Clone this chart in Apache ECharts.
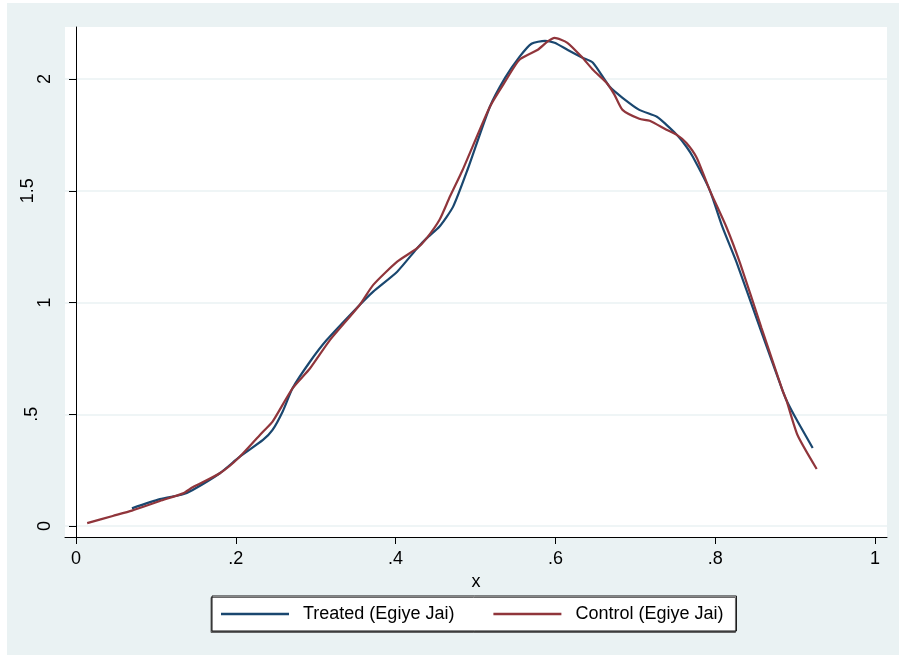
<!DOCTYPE html>
<html>
<head>
<meta charset="utf-8">
<script src="https://cdn.jsdelivr.net/npm/echarts@6/dist/echarts.min.js"></script>
<style>
  html, body { margin: 0; padding: 0; background: #ffffff; }
  #chart { position: absolute; left: 7px; top: 3px; width: 892px; height: 652px; }
</style>
</head>
<body>
<div id="chart"></div>
<script>
// Series names
const seriesNames = ['Treated (Egiye Jai)', 'Control (Egiye Jai)'];

// Treated (Egiye Jai) kernel density
const treatedX = [0.070, 0.105, 0.134, 0.146, 0.180, 0.205, 0.234, 0.246, 0.259, 0.271, 0.293, 0.314, 0.355, 0.372, 0.402, 0.427, 0.439, 0.455, 0.472, 0.490, 0.518, 0.537, 0.555, 0.570, 0.587, 0.599, 0.615, 0.634, 0.647, 0.668, 0.684, 0.705, 0.727, 0.739, 0.752, 0.764, 0.772, 0.793, 0.809, 0.827, 0.856, 0.884, 0.889, 0.902, 0.922];
const treatedY = [0.079, 0.120, 0.142, 0.161, 0.236, 0.310, 0.385, 0.430, 0.515, 0.616, 0.736, 0.833, 0.989, 1.049, 1.138, 1.243, 1.288, 1.340, 1.429, 1.594, 1.876, 2.005, 2.099, 2.158, 2.171, 2.162, 2.131, 2.095, 2.073, 1.965, 1.916, 1.862, 1.831, 1.795, 1.750, 1.697, 1.652, 1.504, 1.338, 1.177, 0.886, 0.609, 0.564, 0.475, 0.349];

// Control (Egiye Jai) kernel density
const controlX = [0.014, 0.046, 0.070, 0.105, 0.134, 0.146, 0.180, 0.205, 0.234, 0.246, 0.271, 0.293, 0.318, 0.355, 0.372, 0.402, 0.427, 0.439, 0.455, 0.468, 0.484, 0.518, 0.537, 0.555, 0.578, 0.590, 0.599, 0.615, 0.634, 0.647, 0.664, 0.674, 0.684, 0.705, 0.718, 0.739, 0.752, 0.764, 0.777, 0.793, 0.814, 0.831, 0.858, 0.884, 0.889, 0.903, 0.927];
const controlY = [0.013, 0.045, 0.069, 0.112, 0.146, 0.173, 0.236, 0.310, 0.422, 0.467, 0.616, 0.706, 0.833, 0.989, 1.079, 1.183, 1.243, 1.288, 1.370, 1.474, 1.594, 1.876, 1.988, 2.086, 2.131, 2.167, 2.184, 2.162, 2.095, 2.041, 1.983, 1.929, 1.862, 1.822, 1.813, 1.773, 1.750, 1.714, 1.647, 1.504, 1.338, 1.177, 0.886, 0.609, 0.564, 0.407, 0.255];

// Axis ticks
const xTickValues = [0, 0.2, 0.4, 0.6, 0.8, 1];
const xTickLabels = ['0', '.2', '.4', '.6', '.8', '1'];
const yTickValues = [0, 0.5, 1, 1.5, 2];
const yTickLabels = ['0', '.5', '1', '1.5', '2'];

const zip = (xs, ys) => xs.map((x, i) => [x, ys[i]]);
const labelFor = (vals, labels) => (v) => {
  const i = vals.findIndex(t => Math.abs(t - v) < 1e-9);
  return i >= 0 ? labels[i] : '';
};
// style key for rotated y labels (Stata offsets the longer ones outward)
const yLabelStyle = (txt) => txt === '1.5' ? 'w3' : (txt === '.5' ? 'w2' : 'w1');

const FONT = 'Liberation Sans, Arial, Helvetica, sans-serif';
const chart = echarts.init(document.getElementById('chart'), null, { renderer: 'canvas' });
const yFmt = labelFor(yTickValues, yTickLabels);

chart.setOption({
  backgroundColor: '#EAF2F3',
  animation: false,
  grid: {
    left: 58, right: 12, top: 24, bottom: 118,
    show: true, backgroundColor: '#ffffff', borderWidth: 0
  },
  xAxis: {
    type: 'value',
    min: -0.01377, max: 1.01502,
    name: 'x', nameLocation: 'middle', nameGap: 30,
    nameTextStyle: { fontFamily: FONT, fontSize: 18, color: '#000' },
    axisLine: { show: true, onZero: false, lineStyle: { color: '#000', width: 1 } },
    axisTick: { show: true, length: 7, customValues: xTickValues, lineStyle: { color: '#000' } },
    axisLabel: { customValues: xTickValues, margin: 13, fontFamily: FONT, fontSize: 18, color: '#000',
      formatter: labelFor(xTickValues, xTickLabels) },
    splitLine: { show: false }
  },
  yAxis: {
    type: 'value',
    min: -0.0492, max: 2.2327,
    axisLine: { show: true, lineStyle: { color: '#000', width: 1 } },
    axisTick: { show: true, length: 7, customValues: yTickValues, lineStyle: { color: '#000' } },
    axisLabel: { customValues: yTickValues, rotate: 90, margin: 11, fontFamily: FONT, fontSize: 18, color: '#000',
      formatter: (v) => { const t = yFmt(v); return '{' + yLabelStyle(t) + '|' + t + '}'; },
      rich: {
        w1: { fontFamily: FONT, fontSize: 18, color: '#000' },
        w2: { fontFamily: FONT, fontSize: 18, color: '#000', padding: [0, 0, 13, 0] },
        w3: { fontFamily: FONT, fontSize: 18, color: '#000', padding: [0, 0, 17, 0] }
      }
    },
    splitLine: { show: true, lineStyle: { color: '#EAF2F3', width: 1.5 } }
  },
  legend: {
    data: seriesNames,
    left: 205, top: 593,
    orient: 'horizontal',
    icon: 'rect',
    itemWidth: 68, itemHeight: 2.5,
    itemGap: 39,
    padding: [9, 13, 8, 9],
    backgroundColor: '#ffffff',
    borderColor: '#111',
    borderWidth: 1,
    shadowColor: 'rgba(90,90,90,0.9)', shadowBlur: 0, shadowOffsetX: -1, shadowOffsetY: 1.5,
    textStyle: { fontFamily: FONT, fontSize: 18, color: '#000', padding: [0, 0, 0, 9] }
  },
  series: [
    {
      name: seriesNames[0], type: 'line', data: zip(treatedX, treatedY),
      showSymbol: false, symbol: 'none', smooth: 0.2,
      lineStyle: { color: '#1a476f', width: 2.2 }, itemStyle: { color: '#1a476f' }, z: 2
    },
    {
      name: seriesNames[1], type: 'line', data: zip(controlX, controlY),
      showSymbol: false, symbol: 'none', smooth: 0.2,
      lineStyle: { color: '#90353b', width: 2.2 }, itemStyle: { color: '#90353b' }, z: 3
    }
  ]
});
</script>
</body>
</html>
